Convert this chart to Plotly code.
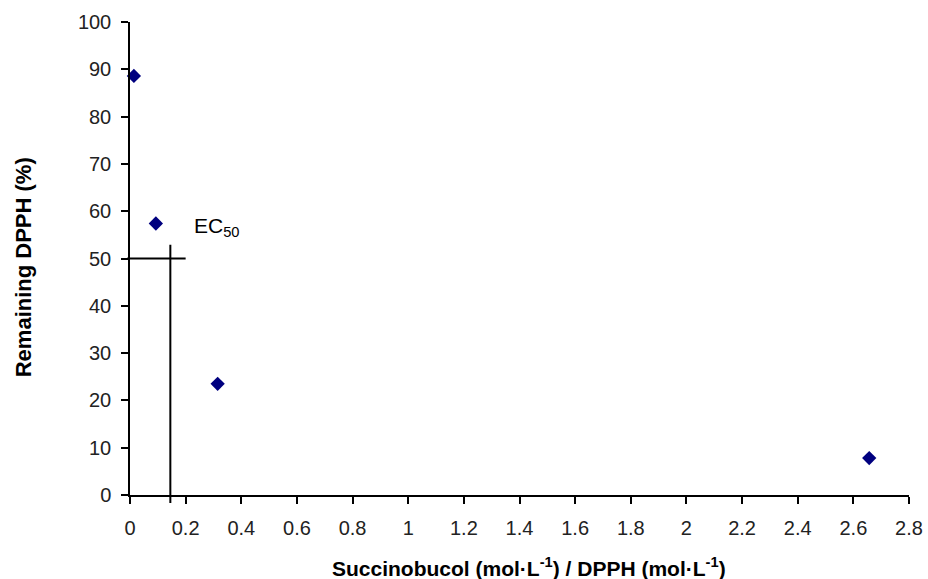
import plotly.graph_objects as go

# Data
ratio = [0.014, 0.093, 0.315, 2.657]          # Succinobucol / DPPH (mol·L-1 ratio)
remaining = [88.6, 57.4, 23.5, 7.8]           # Remaining DPPH (%)
ec50_x = 0.145
ec50_y = 50
x_ticks = [0, 0.2, 0.4, 0.6, 0.8, 1, 1.2, 1.4, 1.6, 1.8, 2, 2.2, 2.4, 2.6, 2.8]
y_ticks = [0, 10, 20, 30, 40, 50, 60, 70, 80, 90, 100]
x_title = "<b>Succinobucol (mol·L<sup>-1</sup>) / DPPH (mol·L<sup>-1</sup>)</b>"
y_title = "<b>Remaining DPPH (%)</b>"

X_RANGE = [0, 2.8]
Y_RANGE = [0, 100]
FONT = "Liberation Sans, Arial"

fig = go.Figure()
fig.add_trace(go.Scatter(
    x=ratio, y=remaining, mode="markers",
    marker=dict(symbol="diamond", size=11, color="#00007f", line=dict(width=0)),
    cliponaxis=False, showlegend=False, hoverinfo="skip",
))

def ydom(v):
    return (v - Y_RANGE[0]) / (Y_RANGE[1] - Y_RANGE[0])

def xdom(v):
    return (v - X_RANGE[0]) / (X_RANGE[1] - X_RANGE[0])

# EC50 cross lines
fig.add_shape(type="line", xref="x", yref="y domain",
              x0=ec50_x, x1=ec50_x, y0=ydom(-1.7), y1=ydom(52.9),
              line=dict(color="black", width=2))
fig.add_shape(type="line", xref="x domain", yref="y",
              x0=xdom(-0.01), x1=xdom(0.2), y0=ec50_y, y1=ec50_y,
              line=dict(color="black", width=2))

fig.add_annotation(x=0.222, y=56.6, xref="x", yref="y", text="EC<sub>50</sub>",
                   showarrow=False, xanchor="left", yanchor="middle",
                   font=dict(family=FONT, size=21, color="black"))

# axis titles
fig.add_annotation(x=0.512, y=-0.152, xref="paper", yref="paper", text=x_title,
                   showarrow=False, xanchor="center", yanchor="middle",
                   font=dict(family=FONT, size=21, color="black"))
fig.add_annotation(x=-0.137, y=0.482, xref="paper", yref="paper", text=y_title,
                   showarrow=False, xanchor="center", yanchor="middle", textangle=-90,
                   font=dict(family=FONT, size=22, color="black"))

axis_common = dict(
    showgrid=False, zeroline=False, showline=True, linecolor="black", linewidth=1.5,
    ticks="outside", ticklen=7, tickcolor="black", tickwidth=1.5, automargin=False,
    ticklabeloverflow="allow",
    tickfont=dict(family=FONT, size=20, color="#222"),
)

fig.update_xaxes(range=X_RANGE, tickvals=x_ticks, ticktext=[f"{t:g}" for t in x_ticks],
                 ticklabelstandoff=7, **axis_common)
fig.update_yaxes(range=Y_RANGE, tickvals=y_ticks, ticklabelstandoff=6, **axis_common)

fig.update_layout(
    width=928, height=579,
    margin=dict(l=130, r=19, t=22, b=84),
    paper_bgcolor="white", plot_bgcolor="white",
)

fig.write_html("out.html", config={"displayModeBar": False},
               post_script="document.body.style.margin='0';document.body.style.overflow='hidden';")
